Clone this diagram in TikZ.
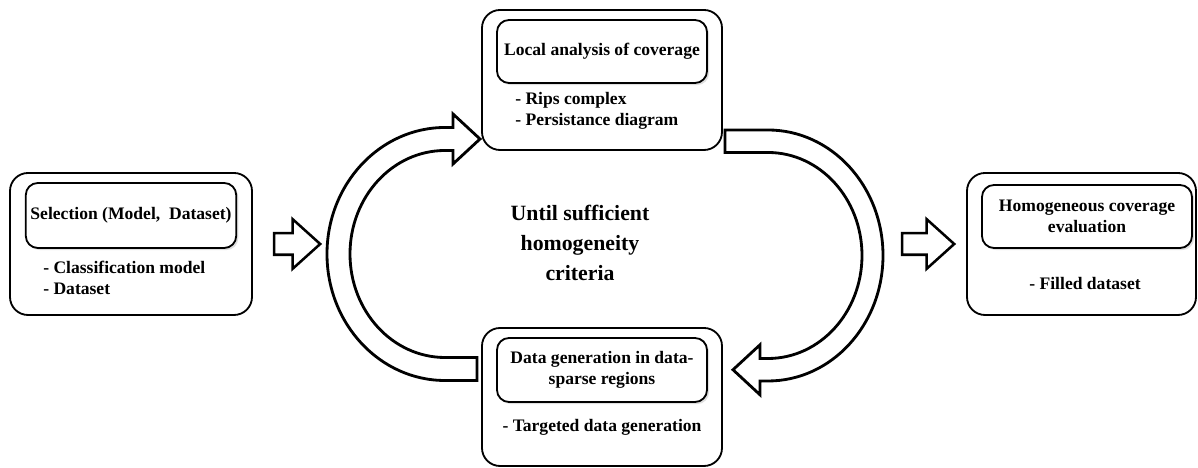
\documentclass[tikz,border=0pt]{standalone}
\usepackage{fontspec}
\setmainfont{Liberation Serif}
\usepackage{tikz}
\usetikzlibrary{positioning,shapes.arrows,shadows}

\begin{document}
\begin{tikzpicture}[
		every node/.style={font=\bfseries\fontsize{12.5}{15}\selectfont},
		outerbox/.style={rectangle, draw, line width=1.3pt, rounded corners=0.45cm},
		innerbox/.style={rectangle, draw, fill=white, line width=1.3pt, rounded corners=0.3cm, align=center,
			minimum width=5.25cm, drop shadow={shadow xshift=1.5pt, shadow yshift=-1.5pt, opacity=0.25}},
		item/.style={inner sep=0pt, align=left},
		fwdarrow/.style={single arrow, draw, line width=1.8pt, inner sep=0.2375cm, single arrow head extend=0.35cm,
			single arrow tip angle=84},
		looparrow/.style={draw, line width=2pt, line join=miter}
	]
  \useasboundingbox (0cm, 0cm) rectangle (29.95cm, 11.7cm);
  \node (sel) [outerbox, minimum width=6.05cm, minimum height=3.55cm] at (3.275cm, 5.6cm) {};
  \node (sel_head) [innerbox, minimum height=1.625cm] at (3.275cm, 6.3125cm) {Selection (Model,\ \ Dataset)};
  \node (sel_list) [item, anchor=west] at (1.075cm, 4.7625cm) {- Classification model\\- Dataset};
  \node (ana) [outerbox, minimum width=6cm, minimum height=3.5cm] at (15.05cm, 9.7cm) {};
  \node (ana_head) [innerbox, minimum height=1.575cm] at (15.05cm, 10.4125cm) {Local analysis of coverage};
  \node (ana_list) [item, anchor=west] at (12.875cm, 8.925cm) {- Rips complex\\- Persistance diagram};
  \node (gen) [outerbox, minimum width=6cm, minimum height=3.45cm] at (15.05cm, 1.775cm) {};
  \node (gen_head) [innerbox, minimum height=1.6cm] at (15.05cm, 2.45cm) {Data generation in data-\\sparse regions};
  \node (gen_list) [item] at (15.05cm, 1.025cm) {- Targeted data generation};
  \node (eval) [outerbox, minimum width=5.725cm, minimum height=3.55cm] at (27.0375cm, 5.6cm) {};
  \node (eval_head) [innerbox, minimum height=1.575cm] at (27.175cm, 6.2875cm) {Homogeneous coverage\\evaluation};
  \node (eval_list) [item] at (27.125cm, 4.625cm) {- Filled dataset};
  \node (until) [align=center, font=\bfseries\fontsize{15.5}{21.5}\selectfont] at (14.5cm, 5.625cm) {Until sufficient\\homogeneity\\criteria};
  \node (arr_in) [fwdarrow, minimum height=1.15cm, right=0.5cm of sel] {};
  \node (arr_out) [fwdarrow, minimum height=1.3cm, left=0.25cm of eval] {};
  \coordinate (c_left) at (11.125cm, 5.35cm);
  \coordinate (c_right) at (19.2cm, 5.3125cm);
  \draw [looparrow] (11.925cm, 2.1875cm) -- (11.125cm, 2.1875cm)
    arc [start angle=270, end angle=90, x radius=2.95cm, y radius=3.1625cm]
    -- (11.325cm, 8.5125cm) -- (11.325cm, 8.85cm) -- (12cm, 8.225cm) -- (11.325cm, 7.6cm)
    -- (11.325cm, 7.9375cm) -- (11.125cm, 7.9375cm)
    arc [start angle=90, end angle=270, x radius=2.375cm, y radius=2.5875cm]
    -- (11.925cm, 2.7625cm) -- cycle;
  \draw [looparrow] (18.125cm, 8.45cm) -- (19.2cm, 8.45cm)
    arc [start angle=90, end angle=-90, x radius=2.875cm, y radius=3.1375cm]
    -- (19cm, 2.175cm) -- (19cm, 1.83cm) -- (18.325cm, 2.456cm) -- (19cm, 3.08cm)
    -- (19cm, 2.7375cm) -- (19.2cm, 2.7375cm)
    arc [start angle=-90, end angle=90, x radius=2.35cm, y radius=2.575cm]
    -- (18.125cm, 7.8875cm) -- cycle;
\end{tikzpicture}
\end{document}
